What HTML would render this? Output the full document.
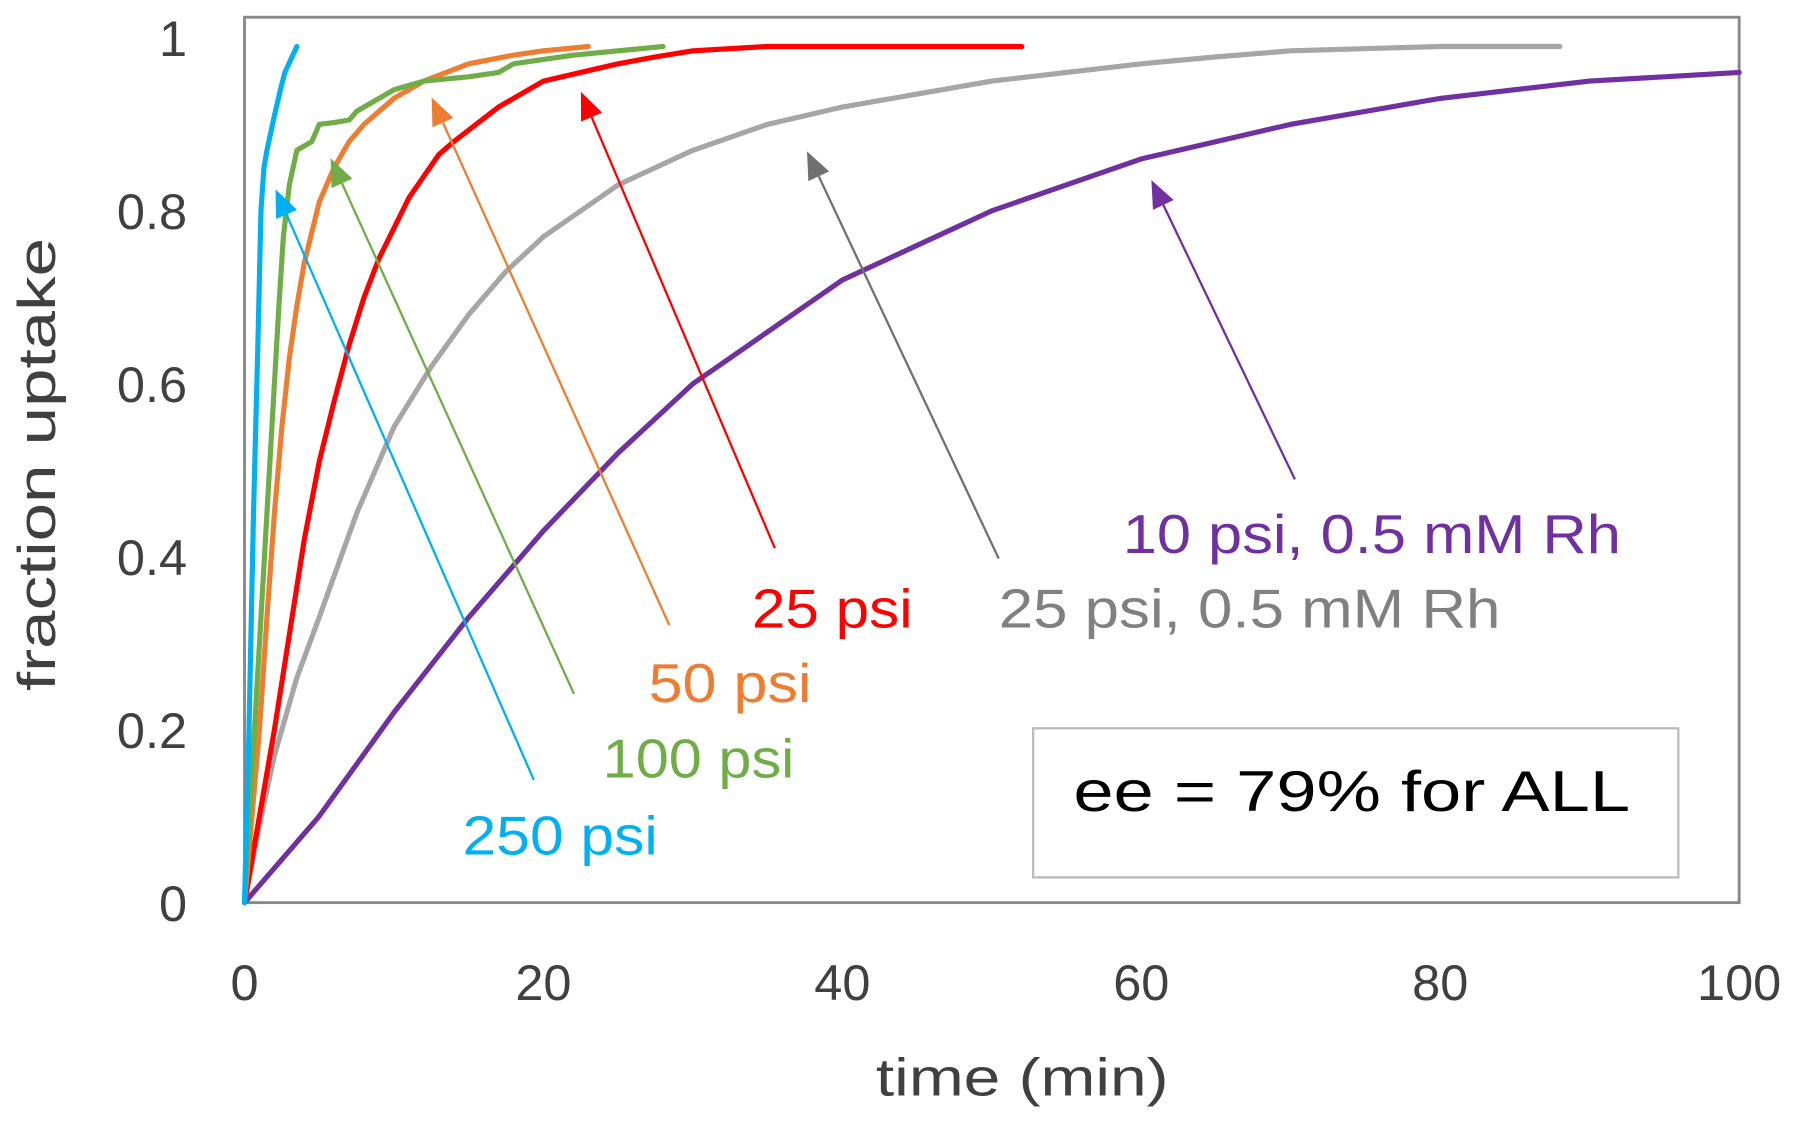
<!DOCTYPE html>
<html><head><meta charset="utf-8"><style>
html,body{margin:0;padding:0;background:#fff;}
svg{display:block;font-family:"Liberation Sans",sans-serif;}
</style></head><body>
<svg id="chart" width="1800" height="1124" viewBox="0 0 1568 980" preserveAspectRatio="none" xmlns="http://www.w3.org/2000/svg">
<rect x="213" y="15" width="1302" height="772" fill="none" stroke="#888" stroke-width="2.5"/>
<g id="ticks"></g>
<g id="series"></g>
<g id="arrows"></g>
<text x="763" y="955" font-size="46" fill="#404040" textLength="255" lengthAdjust="spacingAndGlyphs">time (min)</text>
<text transform="translate(48,405) rotate(-90)" font-size="46" fill="#404040" text-anchor="middle" textLength="395" lengthAdjust="spacingAndGlyphs">fraction uptake</text>
<text x="403" y="745" font-size="48" fill="#00b0f0" textLength="170" lengthAdjust="spacingAndGlyphs">250 psi</text>
<text x="525" y="678" font-size="48" fill="#70ad47" textLength="167" lengthAdjust="spacingAndGlyphs">100 psi</text>
<text x="565" y="612" font-size="48" fill="#ed7d31" textLength="142" lengthAdjust="spacingAndGlyphs">50 psi</text>
<text x="655" y="547" font-size="48" fill="#ff0000" textLength="140" lengthAdjust="spacingAndGlyphs">25 psi</text>
<text x="870" y="547" font-size="48" fill="#808080" textLength="437" lengthAdjust="spacingAndGlyphs">25 psi, 0.5 mM Rh</text>
<text x="978" y="482" font-size="48" fill="#7030a0" textLength="434" lengthAdjust="spacingAndGlyphs">10 psi, 0.5 mM Rh</text>
<rect x="900" y="635" width="562" height="130" fill="#fff" stroke="#bbb" stroke-width="2"/>
<text x="935" y="707" font-size="50" fill="#000" textLength="485" lengthAdjust="spacingAndGlyphs">ee = 79% for ALL</text>
</svg>
<script>
const xTicks = [0,20,40,60,80,100];
const yTicks = [0,0.2,0.4,0.6,0.8,1];
const yTickLabels = ["0","0.2","0.4","0.6","0.8","1"];
const t250 = [0,0.3,0.6,0.9,1.1,1.3,1.5,2,2.4,2.7,3.1,3.5];
const v250 = [0,0.2,0.45,0.65,0.8,0.85,0.87,0.91,0.94,0.96,0.975,0.99];
const t100 = [0,0.5,1,1.5,2,2.3,2.6,3,3.5,4.5,5,6,7,7.5,8,9,10,11,12,15,17,18,20,22,25,28];
const v100 = [0,0.15,0.3,0.45,0.6,0.69,0.77,0.83,0.87,0.88,0.9,0.902,0.905,0.915,0.92,0.93,0.94,0.945,0.95,0.955,0.96,0.97,0.975,0.98,0.985,0.99];
const t50 = [0,0.5,1,1.5,2,2.5,3,3.5,4,5,6,7,8,9,10,11,12,13.5,15,18,20,23];
const v50 = [0,0.1,0.2,0.33,0.45,0.55,0.63,0.69,0.74,0.81,0.85,0.88,0.9,0.915,0.93,0.94,0.95,0.96,0.97,0.98,0.985,0.99];
const t25 = [0,1,2,3,4,5,6,7,8,9,10,11,12,13,14,15.5,17,18.5,20,22.5,25,27.5,30,35,40,52];
const v25 = [0,0.1,0.2,0.31,0.42,0.51,0.58,0.645,0.7,0.745,0.78,0.815,0.84,0.865,0.88,0.9,0.92,0.935,0.95,0.96,0.97,0.978,0.985,0.99,0.99,0.99];
const t25rh = [0,1,2,3.5,5,7.5,10,12.5,15,17.5,20,22.5,25,27.5,30,35,40,45,50,55,60,65,70,80,88];
const v25rh = [0,0.09,0.17,0.26,0.33,0.45,0.55,0.62,0.68,0.73,0.77,0.8,0.83,0.85,0.87,0.9,0.92,0.935,0.95,0.96,0.97,0.978,0.985,0.99,0.99];
const t10rh = [0,2.5,5,7.5,10,12.5,15,17.5,20,22.5,25,27.5,30,32.5,35,37.5,40,42.5,45,47.5,50,55,60,65,70,75,80,85,90,95,100];
const v10rh = [0,0.05,0.1,0.16,0.22,0.275,0.33,0.38,0.43,0.475,0.52,0.56,0.6,0.63,0.66,0.69,0.72,0.74,0.76,0.78,0.8,0.83,0.86,0.88,0.9,0.915,0.93,0.94,0.95,0.955,0.96];

const NS="http://www.w3.org/2000/svg";
const X0=213,X1=1515,Y0=787,Y1=33;
function xs(v){return X0+(X1-X0)*v/100;}
function ys(v){return Y0-(Y0-Y1)*v;}
const tg=document.getElementById('ticks');
xTicks.forEach(v=>{
  const t=document.createElementNS(NS,'text');
  
  
  t.setAttribute('x',xs(v));t.setAttribute('y',872);
  t.setAttribute('font-size','44');t.setAttribute('fill','#404040');t.setAttribute('text-anchor','middle');
  t.textContent=v;tg.appendChild(t);
});
yTicks.forEach((v,i)=>{
  const t=document.createElementNS(NS,'text');
  
  
  t.setAttribute('x',163);t.setAttribute('y',ys(v)+16);
  t.setAttribute('font-size','44');t.setAttribute('fill','#404040');t.setAttribute('text-anchor','end');
  t.textContent=yTickLabels[i];tg.appendChild(t);
});
const sg=document.getElementById('series');
function line(ts,vs,color,name){
  const p=document.createElementNS(NS,'polyline');
  
  
  p.setAttribute('points',ts.map((t,i)=>xs(t)+','+ys(vs[i])).join(' '));
  p.setAttribute('fill','none');p.setAttribute('stroke',color);p.setAttribute('stroke-width','4.5');
  p.setAttribute('stroke-linejoin','round');p.setAttribute('stroke-linecap','round');
  sg.appendChild(p);
}
line(t10rh,v10rh,'#7030a0','series-10-psi-rh');
line(t25rh,v25rh,'#a6a6a6','series-25-psi-rh');
line(t25,v25,'#ff0000','series-25-psi');
line(t50,v50,'#ed7d31','series-50-psi');
line(t100,v100,'#70ad47','series-100-psi');
line(t250,v250,'#00b0f0','series-250-psi');
const ag=document.getElementById('arrows');
function arrow(x1,y1,x2,y2,color,name){
  const g=document.createElementNS(NS,'g');
  
  
  const dx=x2-x1,dy=y2-y1,L=Math.hypot(dx,dy),ux=dx/L,uy=dy/L,h=24,w=10;
  const bx=x2-ux*h,by=y2-uy*h;
  const l=document.createElementNS(NS,'line');
  l.setAttribute('x1',x1);l.setAttribute('y1',y1);l.setAttribute('x2',bx);l.setAttribute('y2',by);
  l.setAttribute('stroke',color);l.setAttribute('stroke-width','2');g.appendChild(l);
  const p=document.createElementNS(NS,'polygon');
  p.setAttribute('points',`${x2},${y2} ${bx-uy*w},${by+ux*w} ${bx+uy*w},${by-ux*w}`);
  p.setAttribute('fill',color);g.appendChild(p);
  ag.appendChild(g);
}
arrow(465,680,240,165,'#00b0f0','arrow-250-psi');
arrow(500,605,288,138,'#70ad47','arrow-100-psi');
arrow(583,545,376,85,'#ed7d31','arrow-50-psi');
arrow(675,478,506,80,'#ff0000','arrow-25-psi');
arrow(870,487,703,132,'#707070','arrow-25-psi-rh');
arrow(1128,418,1003,157,'#7030a0','arrow-10-psi-rh');
</script>
</body></html>
